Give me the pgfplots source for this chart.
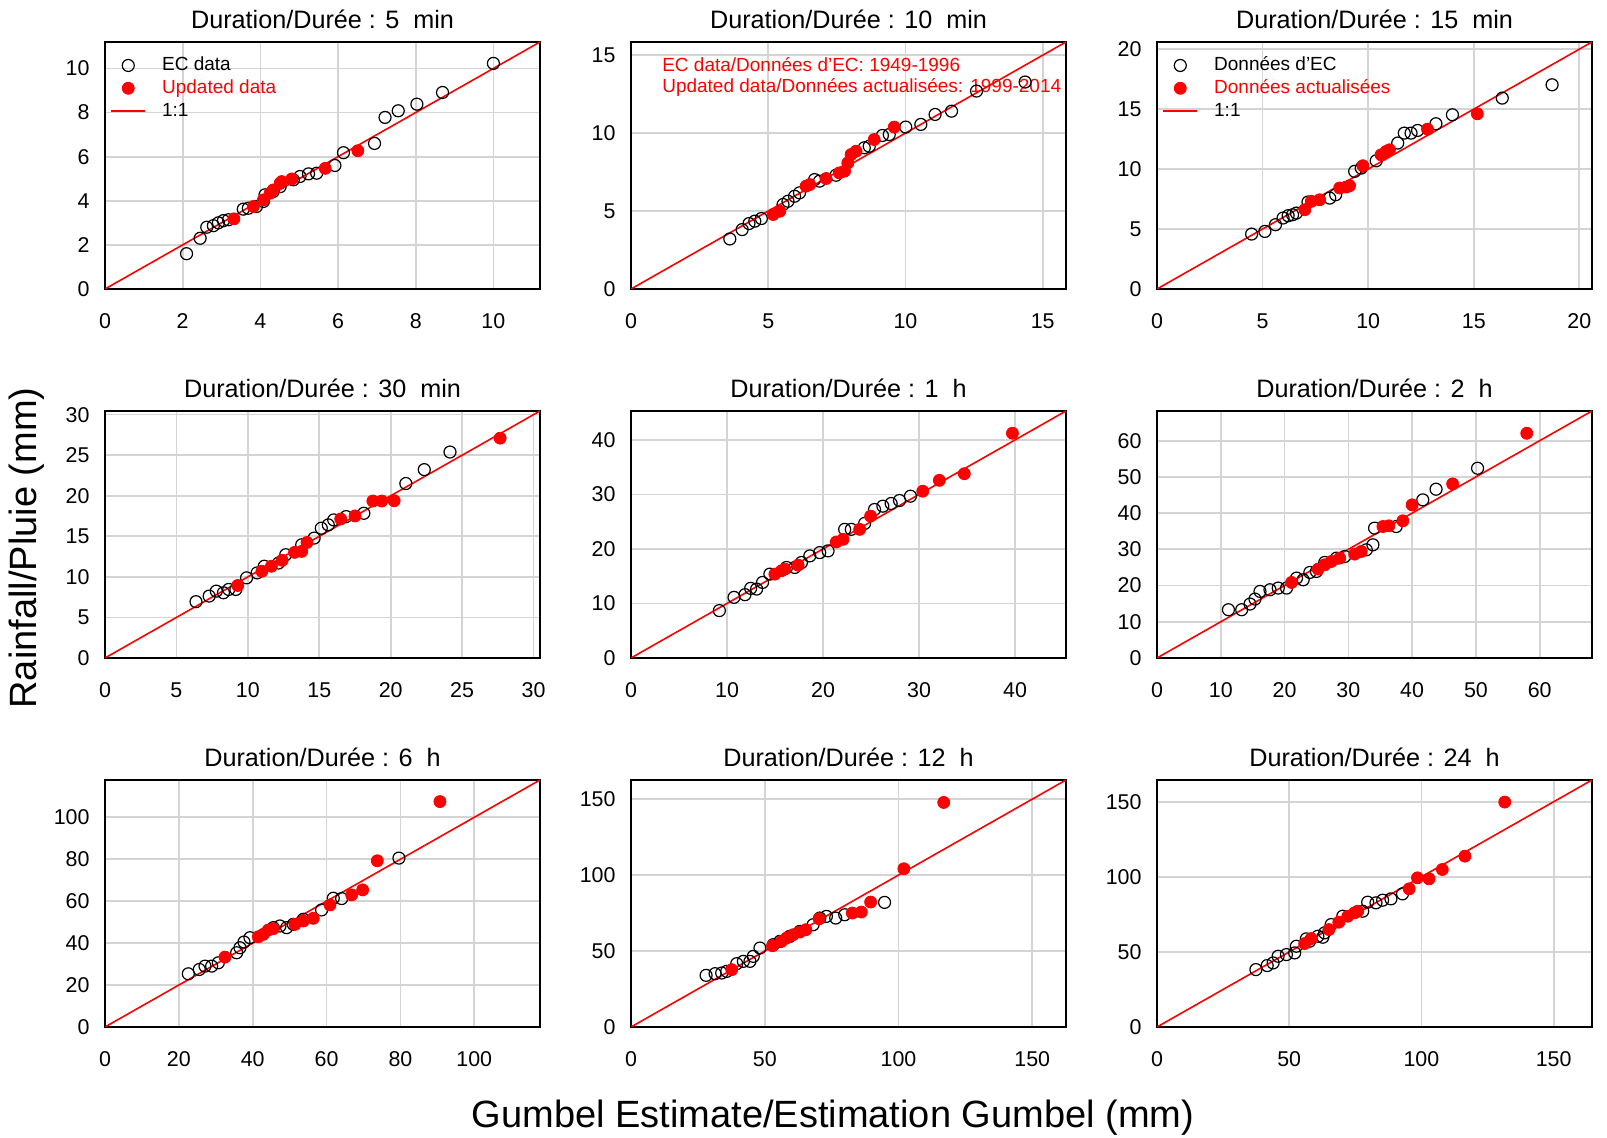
\documentclass[border=0pt]{standalone}
\usepackage{fontspec}
\setmainfont{Liberation Sans}
\usepackage{pgfplots}
\pgfplotsset{compat=1.18}

\pgfplotsset{
  panel/.style={scale only axis,width=217.5pt,height=123.5pt,anchor=south west,
    xmin=0,ymin=0,grid=major,grid style={draw=black!17,line width=0.85pt},
    axis line style={line width=1.45pt},major tick length=0pt,tick style={draw=none},
    tick label style={font=\fontsize{10.7}{12}\selectfont},
    xticklabel style={yshift=-9pt},yticklabel style={xshift=-4.2pt},
    title style={font=\fontsize{12.6}{14}\selectfont,yshift=-3pt},
    /pgf/number format/assume math mode=true,
    legend cell align=left,
    legend style={draw=none,fill=none,at={(0.0115,0.951)},anchor=north west,
      inner sep=0pt,row sep=0.4pt,column sep=7pt,
      font=\fontsize{9.5}{11}\selectfont,
      nodes={inner sep=1pt,text height=7pt,text depth=2pt}}},
  ec/.style={only marks,mark=o,mark size=3pt,draw=black,mark options={line width=0.6pt}},
  upd/.style={only marks,mark=*,mark size=3pt,color=red},
  oneone/.style={red,line width=0.8pt},
}

\begin{document}
\begin{tikzpicture}
\useasboundingbox (0,0) rectangle (803.5pt,569pt);

% 5 min
\begin{axis}[panel,at={(52.5pt,424.5pt)},xmax=11.2,ymax=11.2,
  xtick={0,2,...,10},ytick={0,2,...,10},title={Duration/Durée : 5\ \ min}]
\addplot[ec] coordinates {(2.1,1.6) (2.45,2.3) (2.62,2.8) (2.79,2.87) (2.92,3.0)
  (3.05,3.1) (3.18,3.14) (3.56,3.62) (3.69,3.66) (3.9,3.74) (4.08,3.97) (4.12,4.27)
  (4.33,4.42) (4.51,4.64) (4.85,4.95) (5.02,5.1) (5.24,5.22) (5.45,5.25) (5.92,5.6)
  (6.14,6.18) (6.94,6.6) (7.21,7.78) (7.55,8.08) (8.03,8.38) (8.69,8.91) (10.0,10.23)};
\addlegendentry{EC data}
\addplot[upd] coordinates {(3.32,3.18) (3.82,3.74) (4.08,4.04) (4.25,4.34) (4.33,4.49)
  (4.51,4.8) (4.55,4.87) (4.81,4.99) (5.67,5.47) (6.51,6.27)};
\addlegendentry{\textcolor{red}{Updated data}}
\addplot[oneone] coordinates {(0,0) (11.2,11.2)};
\addlegendentry{1:1}
\end{axis}

% 10 min
\begin{axis}[panel,at={(315.5pt,424.5pt)},xmax=15.85,ymax=15.85,
  xtick={0,5,10,15},ytick={0,5,10,15},title={Duration/Durée : 10\ \ min}]
\addplot[ec] coordinates {(3.6,3.21) (4.05,3.81) (4.3,4.2) (4.51,4.35) (4.75,4.52)
  (5.54,5.42) (5.72,5.63) (5.96,5.95) (6.14,6.17) (6.69,7.02) (6.87,6.92) (7.47,7.3)
  (8.5,9.06) (8.68,9.16) (9.16,9.85) (9.41,9.91) (10.01,10.39) (10.56,10.56)
  (11.08,11.2) (11.68,11.41) (12.59,12.7) (14.36,13.28)};
\addplot[upd] coordinates {(5.18,4.78) (5.42,4.99) (6.38,6.6) (6.51,6.7) (7.11,7.09)
  (7.59,7.45) (7.78,7.56) (7.9,8.09) (8.02,8.63) (8.2,8.84) (8.86,9.59) (9.59,10.39)};
\addplot[oneone] coordinates {(0,0) (15.85,15.85)};
\node[anchor=west,inner sep=0pt,red,font=\fontsize{9.5}{11}\selectfont]
  at (rel axis cs:0.071,0.907) {EC data/Données d'EC: 1949-1996};
\node[anchor=west,inner sep=0pt,red,font=\fontsize{9.5}{11}\selectfont]
  at (rel axis cs:0.071,0.814) {Updated data/Données actualisées: 1999-2014};
\end{axis}

% 15 min
\begin{axis}[panel,at={(578.5pt,424.5pt)},xmax=20.6,ymax=20.6,
  xtick={0,5,...,20},ytick={0,5,...,20},title={Duration/Durée : 15\ \ min}]
\addplot[ec] coordinates {(4.48,4.58) (5.11,4.8) (5.61,5.36) (5.97,5.92) (6.21,6.11)
  (6.42,6.19) (6.6,6.33) (7.15,7.25) (8.18,7.58) (8.46,7.86) (9.36,9.81) (9.67,10.08)
  (10.38,10.69) (11.4,12.17) (11.71,13.0) (12.03,13.0) (12.34,13.22) (13.21,13.78)
  (13.99,14.53) (16.35,15.92) (18.71,17.03)};
\addlegendentry{Données d'EC}
\addplot[upd] coordinates {(7.0,6.61) (7.31,7.31) (7.7,7.44) (8.65,8.42) (8.96,8.5)
  (9.12,8.61) (9.75,10.28) (10.61,11.19) (10.85,11.47) (11.01,11.61) (12.81,13.33)
  (15.17,14.61)};
\addlegendentry{\textcolor{red}{Données actualisées}}
\addplot[oneone] coordinates {(0,0) (20.6,20.6)};
\addlegendentry{1:1}
\end{axis}

% 30 min
\begin{axis}[panel,at={(52.5pt,240pt)},xmax=30.45,ymax=30.45,
  xtick={0,5,...,30},ytick={0,5,...,30},title={Duration/Durée : 30\ \ min}]
\addplot[ec] coordinates {(6.37,6.94) (7.29,7.63) (7.79,8.24) (8.29,8.04) (8.66,8.45)
  (9.16,8.45) (9.91,9.88) (10.65,10.49) (11.15,11.31) (12.15,11.71) (12.65,12.73)
  (13.77,13.96) (14.64,14.78) (15.14,16.0) (15.63,16.41) (16.01,17.02) (16.88,17.43)
  (18.12,17.84) (21.06,21.51) (22.35,23.22) (24.15,25.39)};
\addplot[upd] coordinates {(9.29,8.94) (10.98,10.69) (11.65,11.31) (12.4,12.04)
  (13.27,13.02) (13.77,13.14) (14.14,14.24) (16.5,17.14) (17.5,17.51) (18.75,19.35)
  (19.37,19.35) (20.24,19.39) (27.66,27.1)};
\addplot[oneone] coordinates {(0,0) (30.45,30.45)};
\end{axis}

% 1 h
\begin{axis}[panel,at={(315.5pt,240pt)},xmax=45.3,ymax=45.3,
  xtick={0,10,...,40},ytick={0,10,...,40},title={Duration/Durée : 1\ \ h}]
\addplot[ec] coordinates {(9.2,8.69) (10.73,11.12) (11.87,11.61) (12.46,12.77)
  (13.08,12.64) (13.7,13.86) (14.46,15.38) (16.19,16.6) (17.06,16.6) (17.75,17.51)
  (18.62,18.72) (19.65,19.33) (20.52,19.64) (22.25,23.59) (22.94,23.59) (24.33,24.68)
  (25.36,27.23) (26.23,27.84) (27.09,28.33) (27.96,28.88) (29.1,29.67)};
\addplot[upd] coordinates {(14.98,15.38) (15.67,15.99) (16.02,16.29) (17.4,17.02)
  (21.38,21.28) (22.08,21.76) (23.81,23.59) (24.95,26.02) (30.38,30.58) (32.11,32.58)
  (34.71,33.8) (39.72,41.22)};
\addplot[oneone] coordinates {(0,0) (45.3,45.3)};
\end{axis}

% 2 h
\begin{axis}[panel,at={(578.5pt,240pt)},xmax=68.2,ymax=68.2,
  xtick={0,10,...,60},ytick={0,10,...,60},title={Duration/Durée : 2\ \ h}]
\addplot[ec] coordinates {(11.2,13.33) (13.28,13.33) (14.58,14.89) (15.36,16.27)
  (16.15,18.38) (17.71,18.84) (19.01,19.3) (20.31,19.3) (21.88,22.06) (22.92,21.6)
  (23.96,23.62) (25.0,23.9) (26.3,26.38) (28.13,27.57) (29.43,28.03) (32.81,29.87)
  (33.85,31.25) (34.11,35.85) (37.5,36.3) (41.67,43.66) (43.75,46.6) (50.26,52.39)};
\addplot[upd] coordinates {(21.09,20.86) (25.26,24.54) (26.3,25.74) (27.34,26.65)
  (28.65,27.57) (30.99,28.68) (32.03,29.41) (35.42,36.3) (36.35,36.49) (38.54,37.87)
  (40.0,42.28) (46.35,48.07) (57.97,62.04)};
\addplot[oneone] coordinates {(0,0) (68.2,68.2)};
\end{axis}

% 6 h
\begin{axis}[panel,at={(52.5pt,55.5pt)},xmax=117.8,ymax=117.8,
  xtick={0,20,...,100},ytick={0,20,...,100},title={Duration/Durée : 6\ \ h}]
\addplot[ec] coordinates {(22.56,25.36) (25.54,27.43) (27.08,29.03) (28.88,29.03)
  (30.69,30.62) (35.65,35.41) (36.55,37.8) (37.64,40.51) (39.26,42.58) (45.58,47.37)
  (47.38,48.17) (49.19,47.37) (50.99,48.96) (53.7,51.36) (58.66,55.82) (61.82,61.4)
  (64.08,61.24) (79.6,80.54)};
\addplot[upd] coordinates {(32.49,33.33) (41.52,43.06) (42.87,44.18) (44.22,46.25)
  (45.58,46.89) (51.44,48.96) (53.7,50.56) (56.41,51.83) (60.92,58.21) (66.79,63.0)
  (69.77,65.39) (73.74,79.27) (90.7,107.5)};
\addplot[oneone] coordinates {(0,0) (117.8,117.8)};
\end{axis}

% 12 h
\begin{axis}[panel,at={(315.5pt,55.5pt)},xmax=162.6,ymax=162.6,
  xtick={0,50,100,150},ytick={0,50,100,150},title={Duration/Durée : 12\ \ h}]
\addplot[ec] coordinates {(28.07,33.99) (31.43,35.09) (33.91,35.53) (35.78,36.62)
  (39.5,41.67) (41.99,43.2) (44.47,43.2) (45.71,46.49) (48.2,51.97) (53.17,54.17)
  (55.65,56.36) (59.38,59.65) (63.11,62.94) (68.07,67.32) (70.56,71.71) (73.04,72.81)
  (76.52,71.71) (79.88,73.9) (94.78,82.02)};
\addplot[upd] coordinates {(37.64,37.72) (52.92,53.51) (56.27,56.36) (58.14,58.55)
  (60.62,60.75) (63.11,62.5) (65.34,64.04) (70.31,71.27) (82.73,75.0) (86.09,75.66)
  (89.57,82.24) (101.99,104.17) (116.89,147.81)};
\addplot[oneone] coordinates {(0,0) (162.6,162.6)};
\end{axis}

% 24 h
\begin{axis}[panel,at={(578.5pt,55.5pt)},xmax=164.5,ymax=164.5,
  xtick={0,50,100,150},ytick={0,50,100,150},title={Duration/Durée : 24\ \ h}]
\addplot[ec] coordinates {(37.39,38.22) (41.66,40.89) (43.91,42.67) (45.8,47.11)
  (48.93,48.22) (52.07,49.33) (52.7,53.78) (56.46,58.67) (57.7,57.11) (60.85,60.44)
  (62.7,59.78) (63.36,62.67) (65.87,68.22) (70.26,73.78) (77.79,77.11) (79.67,83.11)
  (82.81,82.67) (85.32,84.44) (88.46,85.33) (92.85,88.67)};
\addplot[upd] coordinates {(55.83,55.56) (58.34,58.89) (64.99,64.89) (68.76,69.78)
  (72.15,73.78) (74.65,76.0) (75.91,77.11) (95.36,92.0) (98.49,99.33) (102.89,98.67)
  (107.9,104.89) (116.44,113.78) (131.5,149.78)};
\addplot[oneone] coordinates {(0,0) (164.5,164.5)};
\end{axis}

\node[rotate=90,font=\fontsize{19}{22}\selectfont] at (13.5pt,295pt) {Rainfall/Pluie (mm)};
\node[font=\fontsize{19}{22}\selectfont] at (416.5pt,10pt) {Gumbel Estimate/Estimation Gumbel (mm)};
\end{tikzpicture}
\end{document}
